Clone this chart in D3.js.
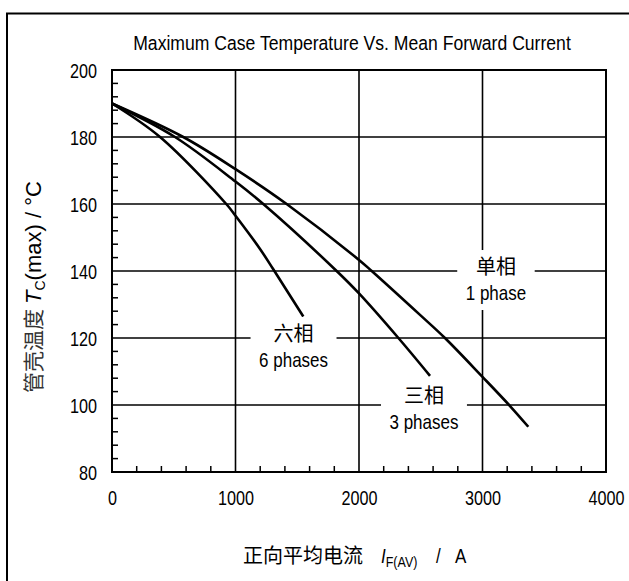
<!DOCTYPE html>
<html>
<head>
<meta charset="utf-8">
<script src="https://cdn.jsdelivr.net/npm/d3@7"></script>
<style>
  html, body { margin: 0; padding: 0; background: #fff; }
  svg { display: block; }
  text { fill: #000; }
</style>
</head>
<body>
<script>
// ---- data ----
const xTicks = [0, 1000, 2000, 3000, 4000];
const yTicks = [80, 100, 120, 140, 160, 180, 200];
const onePhase = [[0,190],[577,180],[1000,170.4],[1414,160],[2000,143.3],[2103,140],[2494,126.9],[2696,120],[3000,108.4],[3223,99.7],[3371,93.5]];
const threePhases = [[0,190],[510,180],[1000,166.7],[1225,160],[1819,140],[2000,133.3],[2319,120],[2575,108.7]];
const sixPhases = [[0,190],[389,180],[925,160],[1000,156.5],[1200,146.5],[1306,140.5],[1549,126.4]];
const seriesLabels = [
  {cn: "单相", en: "1 phase", x: 3109, y: 139.1},
  {cn: "六相", en: "6 phases", x: 1470, y: 119.1},
  {cn: "三相", en: "3 phases", x: 2526, y: 100.6}
];
const title = "Maximum Case Temperature Vs. Mean Forward Current";

const LAT = "'Liberation Sans', Arial, sans-serif";
const CJK = "'Noto Sans CJK SC', sans-serif";
const SY = 1.2;   // reference Latin text is vertically tall/narrow

// place a text at (px,py) baseline, stretched vertically
function stretch(sel, px, py, sy) {
  return sel.attr("x", 0).attr("y", 0).attr("transform", `translate(${px},${py}) scale(1,${sy})`);
}

const W = 629, H = 581;
const svg = d3.select("body").append("svg").attr("width", W).attr("height", H);

const x = d3.scaleLinear().domain([0, 4000]).range([112, 606]);
const y = d3.scaleLinear().domain([80, 200]).range([472, 70]);

// outer frame (top and left visible)
svg.append("path").attr("d", `M7,${H+5} L7,13.5 L${W+5},13.5`)
  .attr("fill", "none").attr("stroke", "#000").attr("stroke-width", 2);

// title
stretch(svg.append("text").attr("text-anchor", "middle")
  .attr("font-family", LAT).attr("font-size", 17.6).text(title), 352, 50, 1.15);

// grid lines
const g = svg.append("g");
g.selectAll(".vg").data(xTicks.slice(1, -1)).join("line")
  .attr("x1", d => x(d)).attr("x2", d => x(d)).attr("y1", y(200)).attr("y2", y(80))
  .attr("stroke", "#000").attr("stroke-width", 1.6);
g.selectAll(".hg").data(yTicks.slice(1, -1)).join("line")
  .attr("x1", x(0)).attr("x2", x(4000)).attr("y1", d => y(d)).attr("y2", d => y(d))
  .attr("stroke", "#000").attr("stroke-width", 1.6);

// minor ticks (inside)
const xMinor = d3.range(200, 4000, 200).filter(v => v % 1000 !== 0);
g.selectAll(".xm").data(xMinor).join("line")
  .attr("x1", d => x(d)).attr("x2", d => x(d)).attr("y1", y(80)).attr("y2", y(80) - 6)
  .attr("stroke", "#000").attr("stroke-width", 1.5);
const yMinor = d3.range(84, 200, 4).filter(v => v % 20 !== 0);
g.selectAll(".ym").data(yMinor).join("line")
  .attr("x1", x(0)).attr("x2", x(0) + 6).attr("y1", d => y(d)).attr("y2", d => y(d))
  .attr("stroke", "#000").attr("stroke-width", 1.5);

// curves
const line = d3.line().x(d => x(d[0])).y(d => y(d[1])).curve(d3.curveCatmullRom.alpha(0.5));
[onePhase, threePhases, sixPhases].forEach(s => {
  g.append("path").attr("d", line(s)).attr("fill", "none")
    .attr("stroke", "#000").attr("stroke-width", 2.6);
});

// labels with white background
seriesLabels.forEach(l => {
  const cx = x(l.x), by = y(l.y);
  const lg = svg.append("g");
  const t1 = lg.append("text").attr("x", cx).attr("y", by).attr("font-family", CJK)
    .attr("text-anchor", "middle").attr("font-size", 20).attr("fill", "#222").text(l.cn);
  const t2 = stretch(lg.append("text").attr("font-family", LAT)
    .attr("text-anchor", "middle").attr("font-size", 17).text(l.en), cx, by + 26, SY);
  const w = Math.max(t1.node().getComputedTextLength(), t2.node().getComputedTextLength());
  lg.insert("rect", "text").attr("x", cx - w / 2 - 8.5).attr("y", by - 24)
    .attr("width", w + 17).attr("height", 60).attr("fill", "#fff");
});

// plot border
svg.append("rect").attr("x", x(0)).attr("y", y(200)).attr("width", x(4000) - x(0)).attr("height", y(80) - y(200))
  .attr("fill", "none").attr("stroke", "#000").attr("stroke-width", 2);

// axis labels via d3 axes
const xAxis = svg.append("g").attr("transform", `translate(0,${y(80)})`)
  .call(d3.axisBottom(x).tickValues(xTicks).tickSize(0).tickPadding(0).tickFormat(d3.format("d")));
xAxis.select(".domain").remove();
xAxis.selectAll("text").attr("font-size", 16.2).attr("font-family", LAT).attr("fill", "#000")
  .attr("dy", null).each(function () { stretch(d3.select(this), 0, 33, SY); });

const yAxis = svg.append("g").attr("transform", `translate(${x(0)},0)`)
  .call(d3.axisLeft(y).tickValues(yTicks).tickSize(0).tickPadding(0).tickFormat(d3.format("d")));
yAxis.select(".domain").remove();
yAxis.selectAll("text").attr("font-size", 16.2).attr("font-family", LAT).attr("fill", "#000")
  .attr("dy", null).each(function () { stretch(d3.select(this), -15, 7, SY); });

// y axis title (rotated; x coordinate = -screen y)
const yt = svg.append("text").attr("transform", "translate(41,0) rotate(-90)")
  .attr("font-size", 22).attr("font-family", LAT);
yt.append("tspan").attr("x", -393).attr("font-family", CJK).attr("fill", "#333").attr("font-size", 21).text("管壳温度");
yt.append("tspan").attr("x", -304).attr("font-style", "italic").text("T");
yt.append("tspan").attr("font-size", 14).attr("dy", 4).text("C");
yt.append("tspan").attr("dy", -4).text("(max) / °C");

// x axis title: CJK part (unstretched) and Latin part (stretched)
svg.append("text").attr("x", 243).attr("y", 563).attr("font-family", CJK).attr("font-size", 20)
  .attr("fill", "#333").text("正向平均电流");
const xtt = svg.append("text").attr("font-size", 17).attr("font-family", LAT)
  .attr("transform", `translate(0,563) scale(1,${SY})`);
xtt.append("tspan").attr("x", 381).attr("font-style", "italic").text("I");
xtt.append("tspan").attr("font-size", 12.5).attr("dy", 3.5).text("F(AV)");
xtt.append("tspan").attr("x", 436).attr("dy", -3.5).text("/");
xtt.append("tspan").attr("x", 455).text("A");
</script>
</body>
</html>
